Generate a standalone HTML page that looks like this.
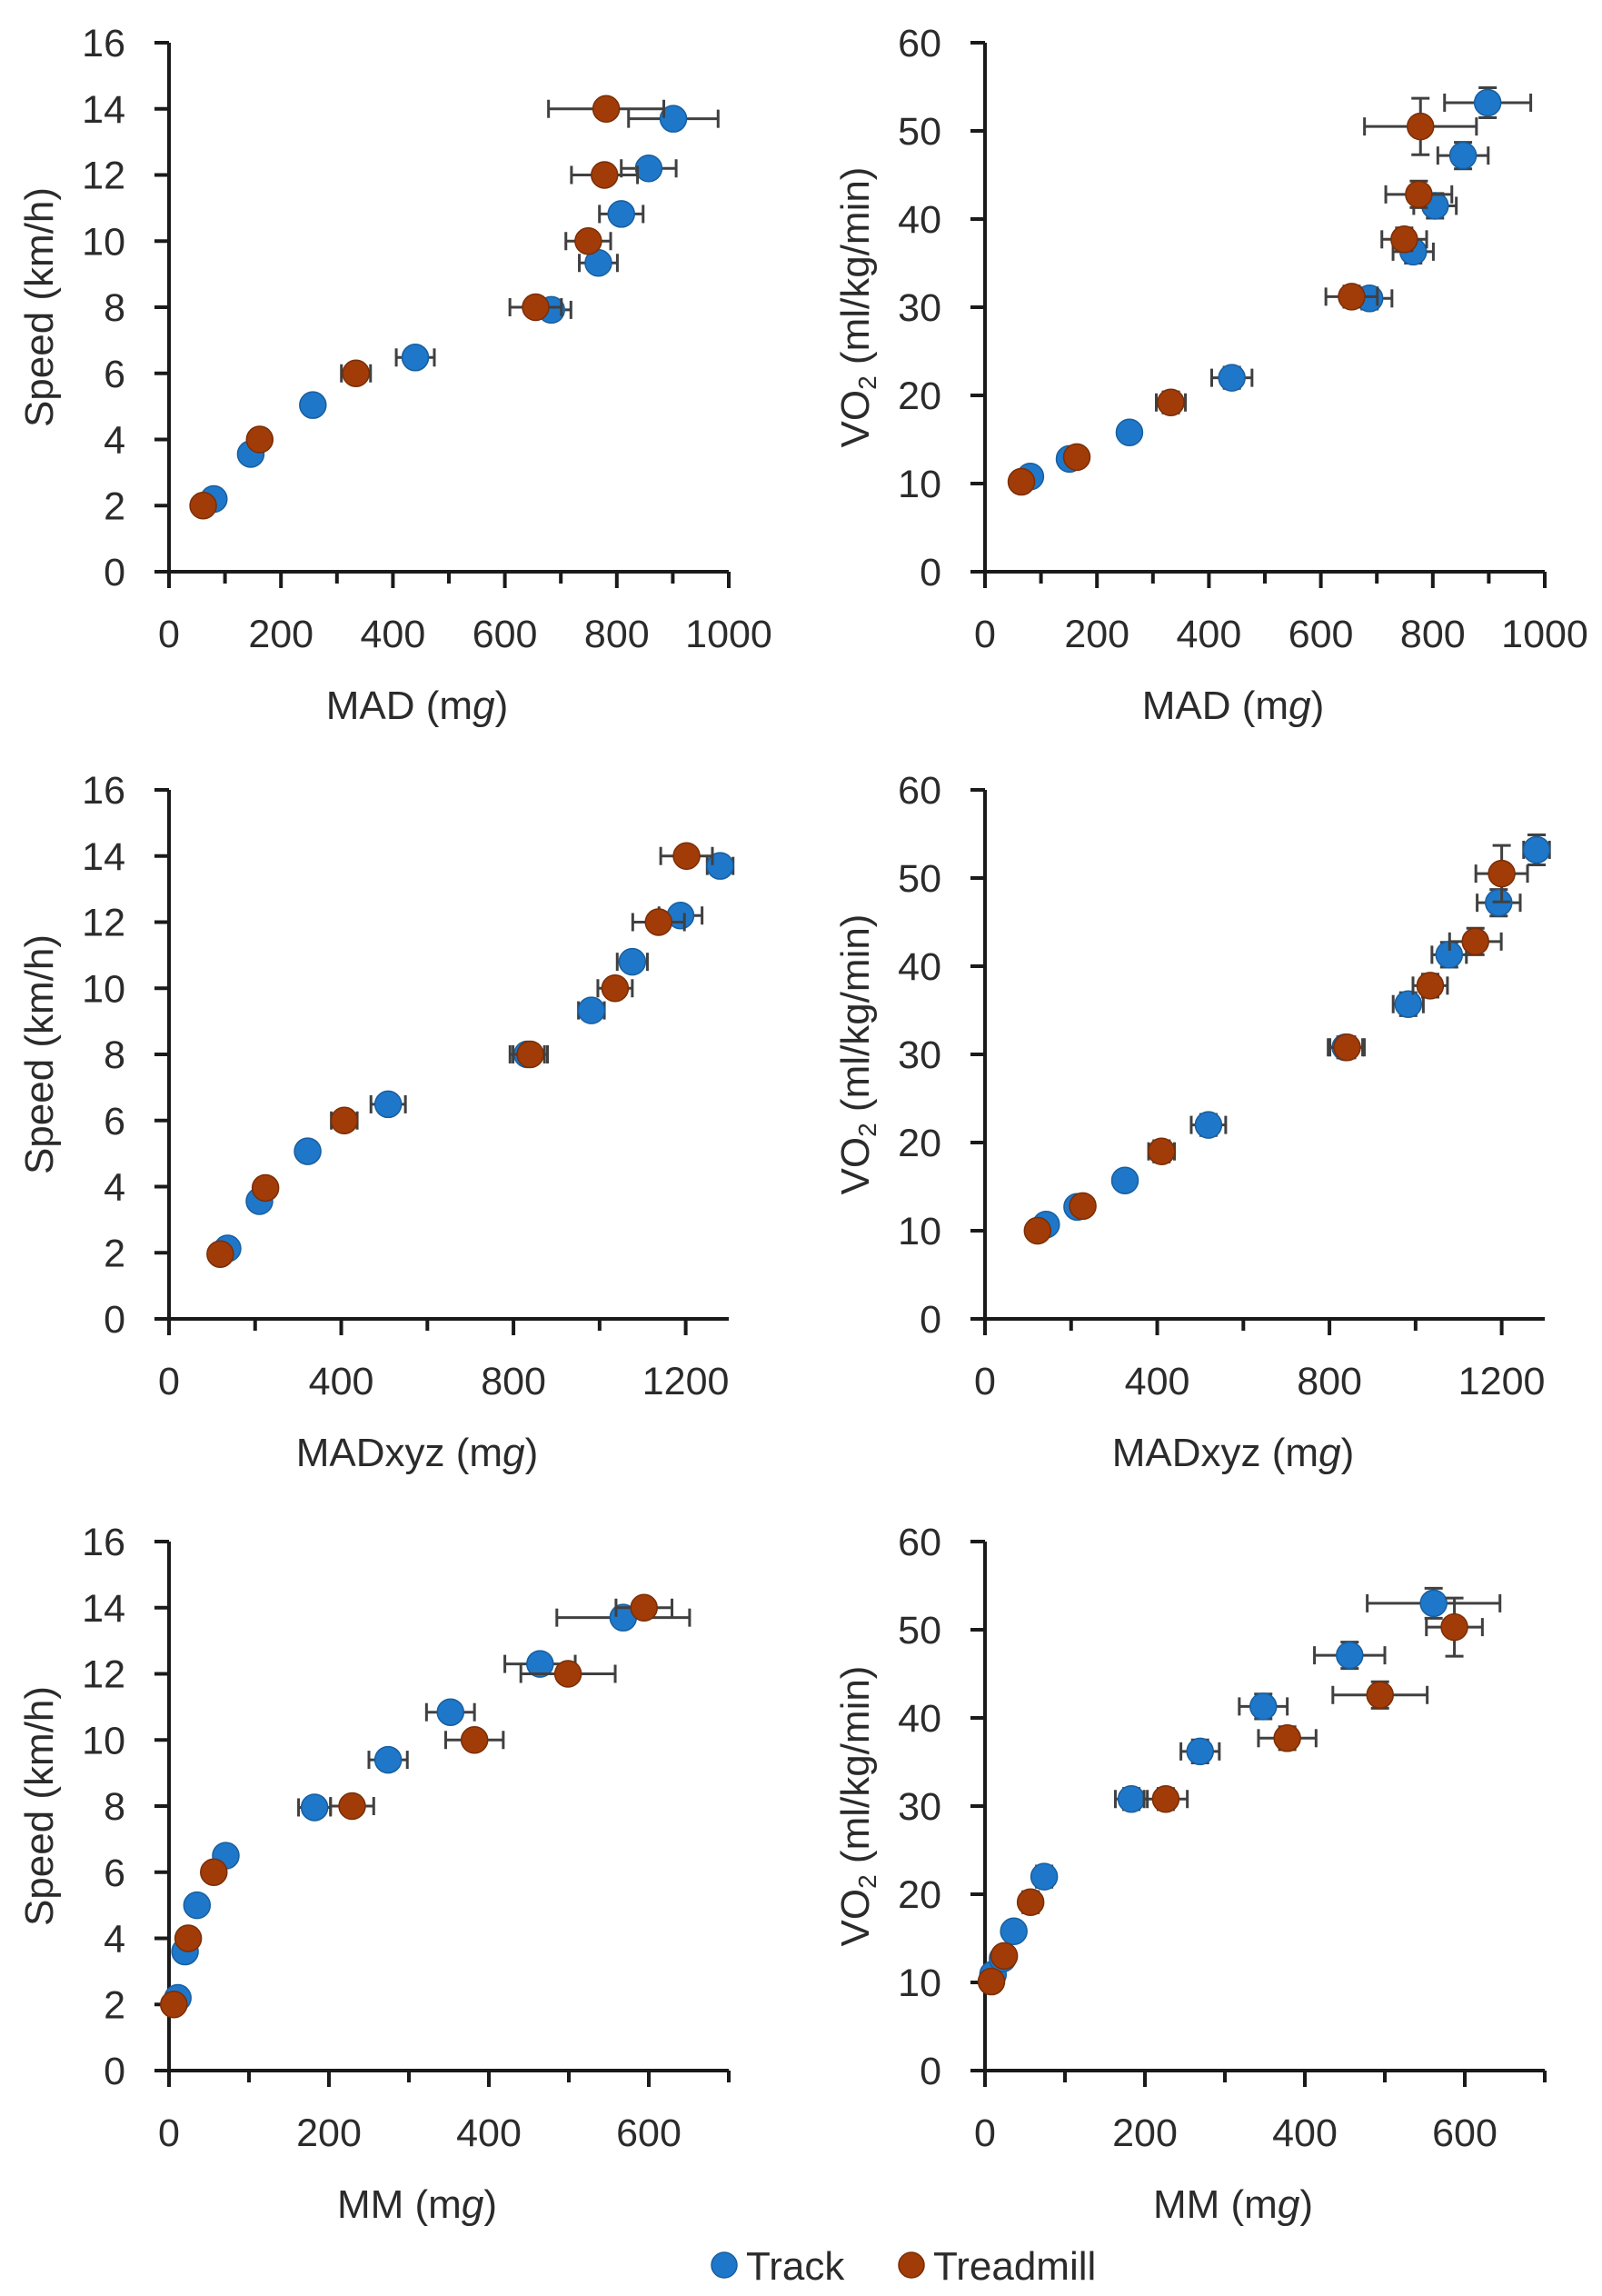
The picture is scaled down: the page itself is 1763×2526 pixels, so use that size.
<!DOCTYPE html>
<html><head><meta charset="utf-8"><style>
html,body{margin:0;padding:0;background:#fff;}
svg{display:block;font-family:"Liberation Sans",sans-serif;}
</style></head><body>
<svg id="fig" width="1763" height="2526" viewBox="0 0 1763 2526" xmlns="http://www.w3.org/2000/svg"></svg>
<script>
// ---- data ----
// Chart A: MAD vs Speed
const madSpeedTrackX=[80,146,257,440,683,767,808,857,901];
const madSpeedTrackY=[2.2,3.56,5.04,6.48,7.92,9.34,10.82,12.2,13.7];
const madSpeedTrackXe=[0,0,0,34,35,34,39,49,80];
const madSpeedTreadX=[61,162,334,655,749,778,781];
const madSpeedTreadY=[2,4,6,8,10,12,14];
const madSpeedTreadXe=[0,0,26,46,40,59,103];
// Chart B: MAD vs VO2
const madVo2TrackX=[81,151,258,441,687,765,804,854,898];
const madVo2TrackY=[10.8,12.8,15.8,22,31,36.3,41.5,47.2,53.2];
const madVo2TrackXe=[0,0,0,36,40,36,38,45,77];
const madVo2TrackYe=[0.8,0.8,0.8,1.2,1.2,1.3,1.4,1.5,1.7];
const madVo2TreadX=[65,164,332,655,749,775,778];
const madVo2TreadY=[10.2,13,19.2,31.2,37.7,42.8,50.5];
const madVo2TreadXe=[0,0,26,46,40,59,100];
const madVo2TreadYe=[0.8,0.8,1.2,1.2,1.3,1.5,3.2];
// Chart C: MADxyz vs Speed
const xyzSpeedTrackX=[136,210,322,509,832,981,1076,1188,1280];
const xyzSpeedTrackY=[2.13,3.56,5.07,6.49,8,9.33,10.8,12.2,13.7];
const xyzSpeedTrackXe=[0,0,0,40,40,30,35,50,30];
const xyzSpeedTreadX=[119,224,407,839,1036,1137,1202];
const xyzSpeedTreadY=[1.96,3.96,6,8,10,12,14];
const xyzSpeedTreadXe=[0,0,30,40,40,60,60];
// Chart D: MADxyz vs VO2
const xyzVo2TrackX=[142,214,325,519,837,983,1078,1193,1281];
const xyzVo2TrackY=[10.7,12.7,15.7,22,30.8,35.7,41.3,47.2,53.2];
const xyzVo2TrackXe=[0,0,0,40,40,35,40,50,30];
const xyzVo2TrackYe=[0.8,0.8,0.8,1.2,1.2,1.3,1.4,1.5,1.7];
const xyzVo2TreadX=[122,227,410,841,1034,1139,1200];
const xyzVo2TreadY=[10,12.8,19,30.8,37.8,42.8,50.5];
const xyzVo2TreadXe=[0,0,30,40,40,60,60];
const xyzVo2TreadYe=[0.8,0.8,1.2,1.2,1.3,1.5,3.2];
// Chart E: MM vs Speed
const mmSpeedTrackX=[11,20,35,71,182,274,352,464,568];
const mmSpeedTrackY=[2.2,3.6,5.0,6.5,7.96,9.4,10.84,12.3,13.7];
const mmSpeedTrackXe=[0,0,0,0,20,24,30,44,83];
const mmSpeedTreadX=[6,24,56,229,382,499,594];
const mmSpeedTreadY=[2,4,6,8,10,12,14];
const mmSpeedTreadXe=[0,0,0,27,36,59,35];
// Chart F: MM vs VO2
const mmVo2TrackX=[10,22,36,74,183,269,348,456,561];
const mmVo2TrackY=[10.9,12.7,15.8,22,30.8,36.2,41.3,47.1,53];
const mmVo2TrackXe=[0,0,0,0,20,24,30,44,83];
const mmVo2TrackYe=[0.8,0.8,0.8,1.2,1.2,1.3,1.4,1.5,1.7];
const mmVo2TreadX=[8,24,57,226,378,494,587];
const mmVo2TreadY=[10.1,13,19.1,30.8,37.7,42.6,50.3];
const mmVo2TreadXe=[0,0,0,27,36,59,35];
const mmVo2TreadYe=[0.8,0.8,1.2,1.2,1.3,1.5,3.3];
// tick labels
const madTicks=[0,200,400,600,800,1000];
const xyzTicks=[0,400,800,1200];
const mmTicks=[0,200,400,600];
const speedTicks=[0,2,4,6,8,10,12,14,16];
const vo2Ticks=[0,10,20,30,40,50,60];
const legendLabels=["Track","Treadmill"];

const NS="http://www.w3.org/2000/svg";
const svg=document.getElementById('fig');
const BLUE="#1f77c9", BLUE_S="#175e9f", BROWN="#a13c08", BROWN_S="#7a2d05", AX="#1a1a1a", TXT="#2b2b2b";
function mk(tag,attrs,parent){const e=document.createElementNS(NS,tag);for(const k in attrs)e.setAttribute(k,attrs[k]);(parent||svg).appendChild(e);return e;}

function chart(o){
  const g=mk('g',{});
  
  
  const X0=o.left, W=616, Y0=o.top+582, H=582;
  const sx=v=>X0+v/o.xmax*W, sy=v=>Y0-v/o.ymax*H;
  // axes
  const ya=mk('line',{x1:X0,y1:o.top,x2:X0,y2:Y0+2,stroke:AX,'stroke-width':4},g);
  
  
  const xa=mk('line',{x1:X0-16,y1:Y0,x2:X0+W,y2:Y0,stroke:AX,'stroke-width':4},g);
  
  
  // y ticks
  o.yTicks.forEach(t=>{
    mk('line',{x1:X0-16,y1:sy(t),x2:X0,y2:sy(t),stroke:AX,'stroke-width':4},g);
    const tx=mk('text',{x:X0-48,y:sy(t)+15,'text-anchor':'end','font-size':43,fill:TXT},g);
    tx.textContent=t;
    
    
  });
  // x ticks
  for(let v=0;v<=o.xmax+1e-6;v+=o.minor){
    const major=Math.abs(v/o.xStep-Math.round(v/o.xStep))<1e-6;
    if(v>0 && Math.abs(v-o.xmax)<1e-6 && !o.endTick) continue;
    mk('line',{x1:sx(v),y1:Y0,x2:sx(v),y2:Y0+(major?18:13),stroke:AX,'stroke-width':4},g);
  }
  o.xTicks.forEach(t=>{
    const tx=mk('text',{x:sx(t),y:Y0+83,'text-anchor':'middle','font-size':43,fill:TXT},g);
    tx.textContent=t;
    
    
  });
  // titles
  const xt=mk('text',{x:X0+W/2-35,y:Y0+162,'text-anchor':'middle','font-size':44,fill:TXT},g);
  xt.innerHTML=o.xTitle+' (m<tspan font-style="italic">g</tspan>)';
  
  
  const cy=o.top+H/2, cx=X0-143;
  const yt=mk('text',{x:cx,y:cy,'text-anchor':'middle','font-size':44,fill:TXT,transform:`rotate(-90 ${cx} ${cy}) translate(0 15)`},g);
  yt.innerHTML=o.yTitle;
  
  
  // series
  o.series.forEach(s=>{
    const sg=mk('g',{},g);
    
    
    s.x.forEach((xv,i)=>{
      const px=sx(xv), py=sy(s.y[i]);
      const xe=s.xe?s.xe[i]:0, ye=s.ye?s.ye[i]:0;
      if(xe>0){
        const a=sx(xv-xe), b=sx(xv+xe);
        mk('line',{x1:a,y1:py,x2:b,y2:py,stroke:'#404040','stroke-width':3},sg);
        mk('line',{x1:a,y1:py-10,x2:a,y2:py+10,stroke:'#404040','stroke-width':3},sg);
        mk('line',{x1:b,y1:py-10,x2:b,y2:py+10,stroke:'#404040','stroke-width':3},sg);
      }
      if(ye>0){
        const a=sy(s.y[i]-ye), b=sy(s.y[i]+ye);
        mk('line',{x1:px,y1:a,x2:px,y2:b,stroke:'#404040','stroke-width':3},sg);
        mk('line',{x1:px-10,y1:a,x2:px+10,y2:a,stroke:'#404040','stroke-width':3},sg);
        mk('line',{x1:px-10,y1:b,x2:px+10,y2:b,stroke:'#404040','stroke-width':3},sg);
      }
    });
    s.x.forEach((xv,i)=>{
      const c=mk('circle',{cx:sx(xv),cy:sy(s.y[i]),r:14.5,fill:s.fill,stroke:s.stroke,'stroke-width':1.5},sg);
      
      
    });
  });
}
const VO2T='VO<tspan font-size="28" dy="8">2</tspan><tspan dy="-8"> (ml/kg/min)</tspan>';
const SPT='Speed (km/h)';
const L=186,R=1084,T1=47,T2=869,T3=1696;
function ser(n,x,y,xe,ye,tr){return {name:n,x:x,y:y,xe:xe,ye:ye,fill:tr?BROWN:BLUE,stroke:tr?BROWN_S:BLUE_S};}
chart({name:'chart-mad-speed',left:L,top:T1,xmax:1000,ymax:16,xStep:200,minor:100,endTick:true,xTicks:madTicks,yTicks:speedTicks,xTitle:'MAD',yTitle:SPT,
  series:[ser('track-series',madSpeedTrackX,madSpeedTrackY,madSpeedTrackXe,null,0),ser('treadmill-series',madSpeedTreadX,madSpeedTreadY,madSpeedTreadXe,null,1)]});
chart({name:'chart-mad-vo2',left:R,top:T1,xmax:1000,ymax:60,xStep:200,minor:100,endTick:true,xTicks:madTicks,yTicks:vo2Ticks,xTitle:'MAD',yTitle:VO2T,
  series:[ser('track-series',madVo2TrackX,madVo2TrackY,madVo2TrackXe,madVo2TrackYe,0),ser('treadmill-series',madVo2TreadX,madVo2TreadY,madVo2TreadXe,madVo2TreadYe,1)]});
chart({name:'chart-madxyz-speed',left:L,top:T2,xmax:1300,ymax:16,xStep:400,minor:200,endTick:false,xTicks:xyzTicks,yTicks:speedTicks,xTitle:'MADxyz',yTitle:SPT,
  series:[ser('track-series',xyzSpeedTrackX,xyzSpeedTrackY,xyzSpeedTrackXe,null,0),ser('treadmill-series',xyzSpeedTreadX,xyzSpeedTreadY,xyzSpeedTreadXe,null,1)]});
chart({name:'chart-madxyz-vo2',left:R,top:T2,xmax:1300,ymax:60,xStep:400,minor:200,endTick:false,xTicks:xyzTicks,yTicks:vo2Ticks,xTitle:'MADxyz',yTitle:VO2T,
  series:[ser('track-series',xyzVo2TrackX,xyzVo2TrackY,xyzVo2TrackXe,xyzVo2TrackYe,0),ser('treadmill-series',xyzVo2TreadX,xyzVo2TreadY,xyzVo2TreadXe,xyzVo2TreadYe,1)]});
chart({name:'chart-mm-speed',left:L,top:T3,xmax:700,ymax:16,xStep:200,minor:100,endTick:true,xTicks:mmTicks,yTicks:speedTicks,xTitle:'MM',yTitle:SPT,
  series:[ser('track-series',mmSpeedTrackX,mmSpeedTrackY,mmSpeedTrackXe,null,0),ser('treadmill-series',mmSpeedTreadX,mmSpeedTreadY,mmSpeedTreadXe,null,1)]});
chart({name:'chart-mm-vo2',left:R,top:T3,xmax:700,ymax:60,xStep:200,minor:100,endTick:true,xTicks:mmTicks,yTicks:vo2Ticks,xTitle:'MM',yTitle:VO2T,
  series:[ser('track-series',mmVo2TrackX,mmVo2TrackY,mmVo2TrackXe,mmVo2TrackYe,0),ser('treadmill-series',mmVo2TreadX,mmVo2TreadY,mmVo2TreadXe,mmVo2TreadYe,1)]});
// legend
const lg=mk('g',{});


[[797,BLUE,BLUE_S],[1003,BROWN,BROWN_S]].forEach((p,i)=>{
  const c=mk('circle',{cx:p[0],cy:2492,r:14,fill:p[1],stroke:p[2],'stroke-width':1.5},lg);
  
  
  const t=mk('text',{x:p[0]+24,y:2508,'font-size':44,fill:TXT},lg);
  t.textContent=legendLabels[i];
  
  
});
</script>
</body></html>
